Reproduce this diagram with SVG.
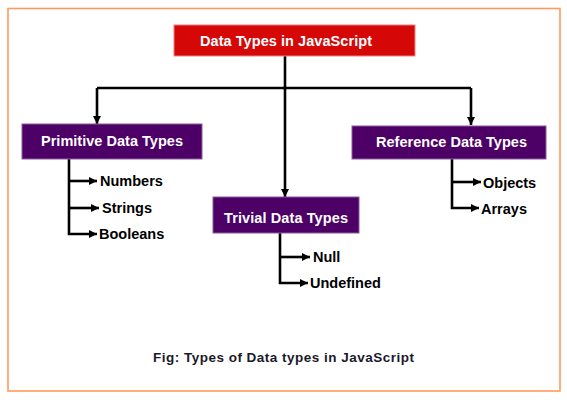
<svg xmlns="http://www.w3.org/2000/svg" width="567" height="400" viewBox="0 0 567 400">
<defs>
<marker id="arr" markerUnits="userSpaceOnUse" markerWidth="9" markerHeight="9" refX="8" refY="4.5" orient="auto">
<path d="M0,0.5 L8,4.5 L0,8.5 z" fill="#000"/>
</marker>
<style>
.box-red{fill:#D50707;stroke:#F08080;stroke-width:1}
.box-pur{fill:#4D0066;stroke:#8A5A9A;stroke-width:1}
.hd{font-family:"Liberation Sans",Arial,sans-serif;font-weight:bold;font-size:14.5px;fill:#fff;text-anchor:middle}
.lf{font-family:"Liberation Sans",Arial,sans-serif;font-weight:bold;font-size:14.5px;fill:#000}
.con{fill:none;stroke:#000;stroke-width:2.6}
.cap{font-family:"Liberation Sans",Arial,sans-serif;font-weight:bold;font-size:13.5px;fill:#1a1a2a;text-anchor:middle}
</style>
</defs>
<rect width="567" height="400" fill="#fff"/>
<rect x="8" y="8.5" width="552" height="382.5" fill="none" stroke="#FF9A5C" stroke-width="1.6"/>
<g id="connectors">
<path class="con" d="M285,56 V197" marker-end="url(#arr)"/>
<path class="con" d="M97,88 H471"/>
<path class="con" d="M97,88 V124" marker-end="url(#arr)"/>
<path class="con" d="M471,88 V125" marker-end="url(#arr)"/>
<path class="con" d="M69,159 V234 H97" marker-end="url(#arr)"/>
<path class="con" d="M69,181 H97" marker-end="url(#arr)"/>
<path class="con" d="M69,208 H99" marker-end="url(#arr)"/>
<path class="con" d="M280,233 V283 H308" marker-end="url(#arr)"/>
<path class="con" d="M280,257 H310" marker-end="url(#arr)"/>
<path class="con" d="M452,159 V208 H479" marker-end="url(#arr)"/>
<path class="con" d="M452,182 H481" marker-end="url(#arr)"/>
</g>
<g id="root">
<rect class="box-red" x="174" y="25" width="241" height="31"/>
<text class="hd" x="286" y="46" textLength="172">Data Types in JavaScript</text>
</g>
<g id="primitive">
<rect class="box-pur" x="22" y="124" width="180" height="35"/>
<text class="hd" x="112" y="146" textLength="142">Primitive Data Types</text>
</g>
<g id="reference">
<rect class="box-pur" x="352" y="126" width="194" height="33"/>
<text class="hd" x="451.5" y="147" textLength="151">Reference Data Types</text>
</g>
<g id="trivial">
<rect class="box-pur" x="213" y="197" width="146" height="36"/>
<text class="hd" x="286" y="223" textLength="124">Trivial Data Types</text>
</g>
<g id="numbers"><text class="lf" x="100" y="186">Numbers</text></g>
<g id="strings"><text class="lf" x="102" y="213">Strings</text></g>
<g id="booleans"><text class="lf" x="99" y="239">Booleans</text></g>
<g id="objects"><text class="lf" x="483" y="188">Objects</text></g>
<g id="arrays"><text class="lf" x="481" y="214">Arrays</text></g>
<g id="null"><text class="lf" x="313" y="262">Null</text></g>
<g id="undefined"><text class="lf" x="310" y="288">Undefined</text></g>
<text class="cap" x="283.5" y="362" textLength="261">Fig: Types of Data types in JavaScript</text>
</svg>
